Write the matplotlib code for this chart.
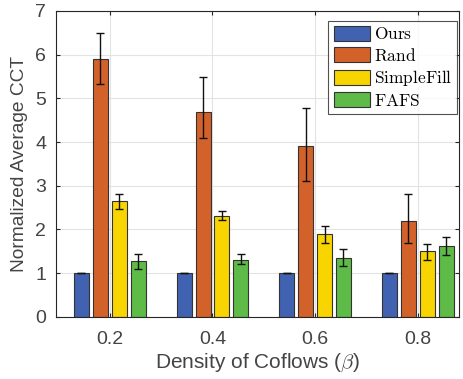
import matplotlib
matplotlib.use("Agg")
import matplotlib.pyplot as plt
import numpy as np

densities = ["0.2", "0.4", "0.6", "0.8"]
methods = ["Ours", "Rand", "SimpleFill", "FAFS"]

ours = [1.0, 1.0, 1.0, 1.0]
ours_lo = [1.0, 1.0, 1.0, 1.0]
ours_hi = [1.0, 1.0, 1.0, 1.0]

rand = [5.89, 4.69, 3.90, 2.20]
rand_lo = [5.32, 4.10, 3.10, 1.70]
rand_hi = [6.49, 5.49, 4.79, 2.81]

simplefill = [2.65, 2.30, 1.89, 1.50]
simplefill_lo = [2.47, 2.21, 1.70, 1.30]
simplefill_hi = [2.81, 2.43, 2.07, 1.67]

fafs = [1.28, 1.31, 1.35, 1.62]
fafs_lo = [1.10, 1.21, 1.17, 1.42]
fafs_hi = [1.43, 1.43, 1.55, 1.82]

colors = ["#4062B0", "#D3622A", "#F8D500", "#5EBB47"]

plt.rcParams["mathtext.fontset"] = "cm"
plt.rcParams["font.family"] = "Liberation Sans"

fig = plt.figure(figsize=(4.63, 3.79), dpi=100)
ax = fig.add_axes([0.121, 0.164, 0.870, 0.807])

x = np.arange(1, len(densities) + 1)
width = 0.146
step = 0.184

series = [
    (ours, ours_lo, ours_hi),
    (rand, rand_lo, rand_hi),
    (simplefill, simplefill_lo, simplefill_hi),
    (fafs, fafs_lo, fafs_hi),
]

for i, (vals, lo, hi) in enumerate(series):
    pos = x + (i - 1.5) * step
    v = np.array(vals)
    err = [v - np.array(lo), np.array(hi) - v]
    ax.bar(pos, v, width=width, color=colors[i], edgecolor="#333333",
           linewidth=0.8, label=r"$\mathrm{" + methods[i] + "}$", zorder=2)
    ax.errorbar(pos, v, yerr=err, fmt="none", ecolor="#111111",
                elinewidth=1.0, capsize=3, capthick=1.0, zorder=3)

ax.set_xlim(0.476, 4.4)
ax.set_ylim(0, 7)
ax.set_xticks(x)
ax.set_xticklabels(densities)
ax.set_yticks(range(0, 8))

ax.grid(True, color="#E3E3E3", linewidth=0.8, zorder=0)
ax.set_axisbelow(True)
ax.tick_params(direction="in", length=3, top=True, right=True,
               labelsize=14, colors="#262626", labelcolor="#444444")
ax.tick_params(axis="x", pad=10)
ax.tick_params(axis="y", pad=7)
for s in ax.spines.values():
    s.set_color("#262626")
    s.set_linewidth(0.8)

ax.set_xlabel(r"Density of Coflows ($\beta$)", fontsize=15, color="#444444", labelpad=3)
ax.set_ylabel("Normalized Average CCT", fontsize=13.8, color="#444444", labelpad=5)

leg = ax.legend(loc="upper right", bbox_to_anchor=(0.996, 0.968), fontsize=12.5,
                frameon=True, fancybox=False, edgecolor="#262626",
                handlelength=2.1, handleheight=0.95, handletextpad=0.2,
                labelspacing=0.25, borderpad=0.3, borderaxespad=0.0)
leg.get_frame().set_linewidth(0.8)

fig.savefig("out.png", dpi=100)
